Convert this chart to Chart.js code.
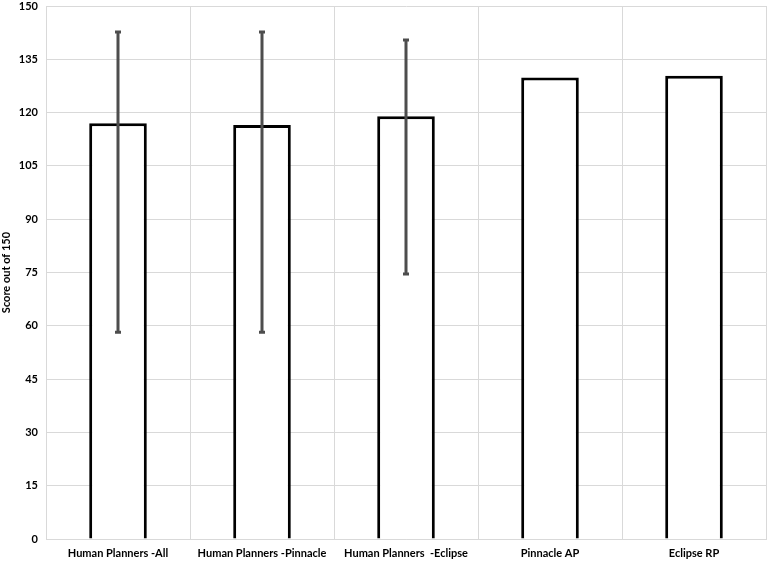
<!DOCTYPE html>
<html>
<head>
<meta charset="utf-8">
<script src="https://cdn.jsdelivr.net/npm/chart.js@4"></script>
<style>
  html, body { margin: 0; padding: 0; background: #fff; }
  #wrap { width: 768px; height: 562px; }
</style>
</head>
<body>
<div id="wrap"><canvas id="chart" width="768" height="562"></canvas></div>
<script>
const categories = ['Human Planners -All', 'Human Planners -Pinnacle', 'Human Planners  -Eclipse', 'Pinnacle AP', 'Eclipse RP'];
const scores = [117.0, 116.5, 119.0, 129.9, 130.4];
const errHigh = [142.7, 142.7, 140.4, null, null];
const errLow = [58.2, 58.2, 74.6, null, null];

// Error bars drawn on top of the bars
const errorBars = {
    id: 'errorBars',
    afterDatasetsDraw(chart) {
        const ctx = chart.ctx;
        const y = chart.scales.y;
        const meta = chart.getDatasetMeta(0);
        ctx.save();
        ctx.strokeStyle = '#4d4d4d';
        ctx.lineWidth = 3;
        meta.data.forEach(function (bar, i) {
            if (errHigh[i] == null) return;
            const x = bar.x;
            const top = y.getPixelForValue(errHigh[i]);
            const bot = y.getPixelForValue(errLow[i]);
            ctx.beginPath();
            ctx.moveTo(x, top);
            ctx.lineTo(x, bot);
            ctx.moveTo(x - 3, top);
            ctx.lineTo(x + 3, top);
            ctx.moveTo(x - 3, bot);
            ctx.lineTo(x + 3, bot);
            ctx.stroke();
        });
        ctx.restore();
    }
};

const font = { family: 'Lato', size: 11, weight: 'bold' };

new Chart(document.getElementById('chart'), {
    type: 'bar',
    data: {
        labels: categories,
        datasets: [{
            data: scores,
            backgroundColor: '#ffffff',
            borderColor: '#000000',
            borderWidth: 3,
            borderSkipped: 'bottom',
            barPercentage: 0.4,
            categoryPercentage: 1.0
        }]
    },
    options: {
        responsive: false,
        animation: false,
        layout: { padding: { top: 6, right: 2, left: 0, bottom: 0 } },
        plugins: {
            legend: { display: false },
            tooltip: { enabled: false }
        },
        scales: {
            x: {
                grid: { color: '#d9d9d9', lineWidth: 1, drawTicks: false },
                border: { color: '#d9d9d9' },
                ticks: { color: '#000', font: font, padding: 8, maxRotation: 0, autoSkip: false },
                afterFit(scale) { scale.height = 23; }
            },
            y: {
                min: 0,
                max: 150,
                grid: { color: '#d9d9d9', lineWidth: 1, drawTicks: false },
                border: { color: '#d9d9d9' },
                ticks: { stepSize: 15, color: '#000', font: font, padding: 8 },
                title: { display: true, text: 'Score out of 150', color: '#000', font: font, padding: 0 },
                afterFit(scale) {
                    scale.width = 46;
                    scale.paddingTop = 0;
                    scale.paddingBottom = 0;
                }
            }
        }
    },
    plugins: [errorBars]
});
</script>
</body>
</html>
